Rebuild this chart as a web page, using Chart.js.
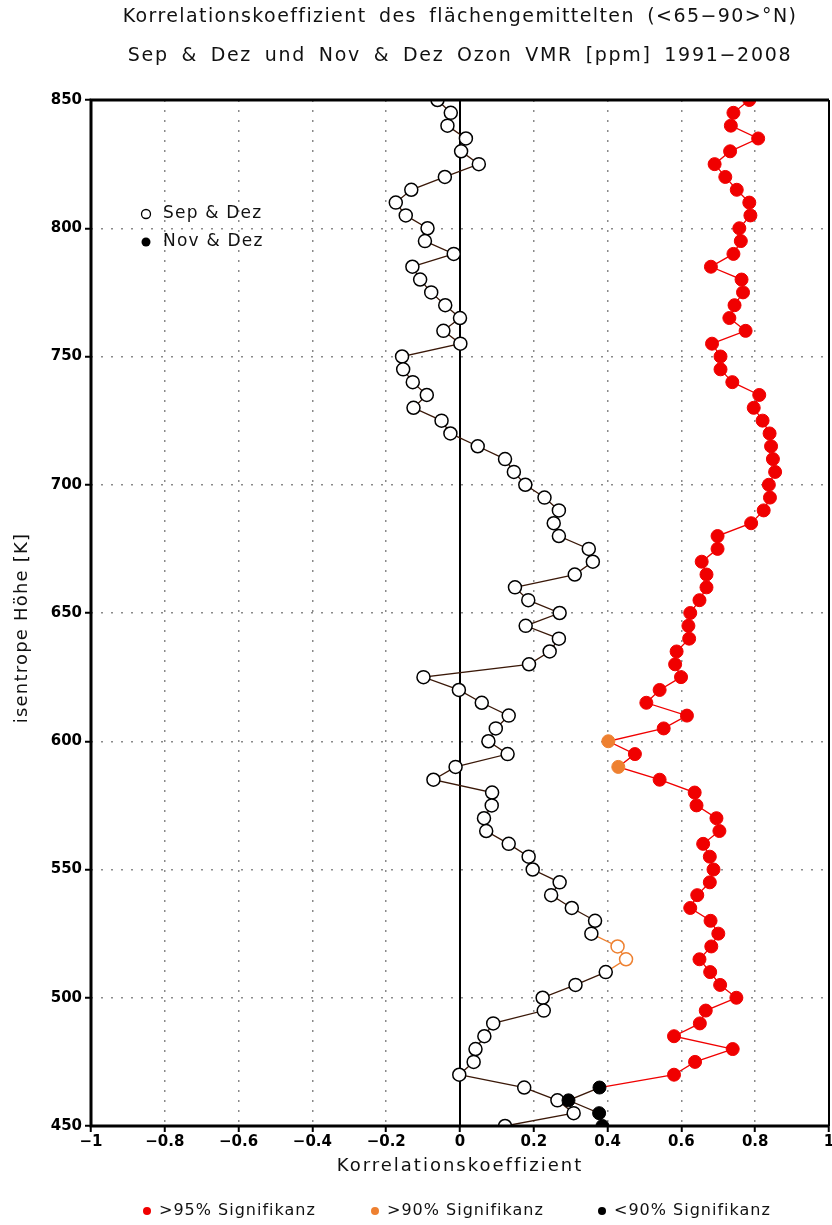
<!DOCTYPE html>
<html>
<head>
<meta charset="utf-8">
<script src="https://cdn.jsdelivr.net/npm/chart.js@4.4.1/dist/chart.umd.min.js"></script>
<style>
html, body { margin: 0; padding: 0; background: #fff; }
#wrap { width: 832px; height: 1225px; }
</style>
</head>
<body>
<div id="wrap"><canvas id="chart" width="832" height="1225"></canvas></div>
<script>
// isentrope Höhen von oben nach unten
const levels = [850, 845, 840, 835, 830, 825, 820, 815, 810, 805,
                800, 795, 790, 785, 780, 775, 770, 765, 760, 755,
                750, 745, 740, 735, 730, 725, 720, 715, 710, 705,
                700, 695, 690, 685, 680, 675, 670, 665, 660, 655,
                650, 645, 640, 635, 630, 625, 620, 615, 610, 605,
                600, 595, 590, 585, 580, 575, 570, 565, 560, 555,
                550, 545, 540, 535, 530, 525, 520, 515, 510, 505,
                500, 495, 490, 485, 480, 475, 470, 465, 460, 455, 450];

// Sep & Dez (offene Kreise)
const sepDez = [-0.061, -0.025, -0.034, 0.016, 0.003, 0.051, -0.041, -0.132, -0.174, -0.147,
                -0.088, -0.095, -0.017, -0.129, -0.108, -0.078, -0.040, 0.000, -0.045, 0.001,
                -0.157, -0.154, -0.128, -0.090, -0.126, -0.050, -0.026, 0.048, 0.122, 0.146,
                0.177, 0.229, 0.268, 0.254, 0.268, 0.349, 0.360, 0.311, 0.149, 0.185,
                0.270, 0.178, 0.268, 0.243, 0.187, -0.099, -0.003, 0.059, 0.132, 0.097,
                0.077, 0.129, -0.012, -0.072, 0.087, 0.086, 0.065, 0.071, 0.132, 0.186,
                0.197, 0.270, 0.247, 0.303, 0.366, 0.356, 0.427, 0.450, 0.395, 0.313,
                0.224, 0.227, 0.090, 0.066, 0.042, 0.037, -0.002, 0.174, 0.264, 0.308, 0.122];

// Nov & Dez (gefüllte Kreise)
const novDez = [0.784, 0.741, 0.734, 0.808, 0.732, 0.690, 0.719, 0.750, 0.784, 0.787,
                0.757, 0.761, 0.741, 0.680, 0.763, 0.767, 0.744, 0.730, 0.774, 0.683,
                0.706, 0.706, 0.738, 0.811, 0.796, 0.820, 0.839, 0.843, 0.848, 0.854,
                0.837, 0.840, 0.823, 0.789, 0.698, 0.698, 0.655, 0.668, 0.668, 0.649,
                0.624, 0.619, 0.621, 0.587, 0.583, 0.599, 0.541, 0.505, 0.615, 0.552,
                0.402, 0.474, 0.429, 0.541, 0.636, 0.641, 0.695, 0.703, 0.659, 0.677,
                0.687, 0.677, 0.643, 0.624, 0.679, 0.700, 0.681, 0.649, 0.678, 0.705,
                0.749, 0.666, 0.650, 0.580, 0.739, 0.637, 0.580, 0.378, 0.294, 0.377, 0.386];

// Signifikanz: Höhen mit abweichender Stufe
const sepDezOver90 = [520, 515];
const novDezOver90 = [600, 590];
const novDezUnder90 = [465, 460, 455, 450];

const xTicks = [-1, -0.8, -0.6, -0.4, -0.2, 0, 0.2, 0.4, 0.6, 0.8, 1];
const yTicks = [450, 500, 550, 600, 650, 700, 750, 800, 850];

const COL_95 = '#f00000';
const COL_90 = '#ee8030';
const COL_LOW = '#000000';
const COL_LOW_LINE = '#3a1808';

const TXT_FONT = '"DejaVu Sans", sans-serif';

// 0 = <90%, 1 = >90%, 2 = >95%
const sepRank = levels.map(l => sepDezOver90.includes(l) ? 1 : 0);
const novRank = levels.map(l => novDezOver90.includes(l) ? 1 : (novDezUnder90.includes(l) ? 0 : 2));

const rankColor = r => [COL_LOW, COL_90, COL_95][r];
const lineColor = r => [COL_LOW_LINE, COL_90, COL_95][r];
const segColor = ranks => ctx => lineColor(Math.max(ranks[ctx.p0DataIndex], ranks[ctx.p1DataIndex]));

function drawText(ctx, text, x, y, size, align, spacing, wordGap) {
    ctx.font = size + 'px ' + TXT_FONT;
    ctx.letterSpacing = spacing + 'px';
    ctx.wordSpacing = (wordGap || 0) + 'px';
    ctx.textAlign = align;
    ctx.textBaseline = 'middle';
    ctx.fillStyle = '#111';
    ctx.fillText(text, x, y);
}

const decorPlugin = {
    id: 'decor',
    beforeDatasetsDraw(chart) {
        const { ctx, chartArea: a, scales: { x } } = chart;
        const x0 = x.getPixelForValue(0);
        ctx.save();
        ctx.strokeStyle = '#000';
        ctx.lineWidth = 2;
        ctx.beginPath();
        ctx.moveTo(x0, a.top);
        ctx.lineTo(x0, a.bottom);
        ctx.stroke();
        ctx.restore();
    },
    afterDraw(chart) {
        const { ctx, chartArea: a } = chart;
        const cx = (a.left + a.right) / 2;
        ctx.save();

        // Rahmen
        ctx.strokeStyle = '#000';
        ctx.lineWidth = 3;
        ctx.beginPath();
        ctx.moveTo(a.left, a.top); ctx.lineTo(a.right, a.top);
        ctx.moveTo(a.left, a.bottom); ctx.lineTo(a.right, a.bottom);
        ctx.moveTo(a.left, a.top - 1.5); ctx.lineTo(a.left, a.bottom + 1.5);
        ctx.stroke();
        ctx.lineWidth = 2;
        ctx.beginPath();
        ctx.moveTo(a.right, a.top); ctx.lineTo(a.right, a.bottom);
        ctx.stroke();

        // Titel
        drawText(ctx, 'Korrelationskoeffizient des flächengemittelten (<65−90>°N)', cx, 17, 19, 'center', 1.4, 5);
        drawText(ctx, 'Sep & Dez und Nov & Dez Ozon VMR [ppm] 1991−2008', cx, 56, 19, 'center', 1.7, 5);

        // Achsentitel
        drawText(ctx, 'Korrelationskoeffizient', cx, 1166, 18, 'center', 2);
        ctx.save();
        ctx.translate(22, 628);
        ctx.rotate(-Math.PI / 2);
        drawText(ctx, 'isentrope Höhe [K]', 0, 0, 18, 'center', 1.2);
        ctx.restore();

        // Legende im Diagramm
        ctx.lineWidth = 1.3;
        ctx.strokeStyle = '#000';
        ctx.fillStyle = '#fff';
        ctx.beginPath();
        ctx.arc(a.left + 55, 214, 4.5, 0, Math.PI * 2);
        ctx.fill();
        ctx.stroke();
        drawText(ctx, 'Sep & Dez', a.left + 72, 214, 17, 'left', 1.2);
        ctx.fillStyle = '#000';
        ctx.beginPath();
        ctx.arc(a.left + 55, 242, 4.5, 0, Math.PI * 2);
        ctx.fill();
        drawText(ctx, 'Nov & Dez', a.left + 72, 242, 17, 'left', 1.2);

        // Signifikanz-Legende
        const items = [['>95% Signifikanz', COL_95, 147], ['>90% Signifikanz', COL_90, 375], ['<90% Signifikanz', COL_LOW, 602]];
        items.forEach(([label, col, px]) => {
            ctx.fillStyle = col;
            ctx.beginPath();
            ctx.arc(px, 1211, 4, 0, Math.PI * 2);
            ctx.fill();
            drawText(ctx, label, px + 12, 1211, 16, 'left', 1.0);
        });
        ctx.restore();
    }
};

const tickFont = { family: '"DejaVu Sans", sans-serif', size: 15, weight: 'bold' };

new Chart(document.getElementById('chart'), {
    type: 'scatter',
    data: {
        datasets: [{
            label: 'Nov & Dez',
            data: levels.map((l, i) => ({ x: novDez[i], y: l })),
            showLine: true,
            borderWidth: 1.3,
            borderColor: COL_95,
            segment: { borderColor: segColor(novRank) },
            pointRadius: 6.5,
            pointBorderWidth: 1,
            pointBackgroundColor: novRank.map(rankColor),
            pointBorderColor: novRank.map(rankColor),
            order: 0
        }, {
            label: 'Sep & Dez',
            data: levels.map((l, i) => ({ x: sepDez[i], y: l })),
            showLine: true,
            borderWidth: 1.3,
            borderColor: COL_LOW_LINE,
            segment: { borderColor: segColor(sepRank) },
            pointRadius: 6.5,
            pointBorderWidth: 1.5,
            pointBackgroundColor: '#fff',
            pointBorderColor: sepRank.map(rankColor),
            order: 1
        }]
    },
    options: {
        responsive: false,
        animation: false,
        layout: { autoPadding: false, padding: { left: 0, right: 3, top: 100, bottom: 0 } },
        plugins: {
            legend: { display: false },
            tooltip: { enabled: false }
        },
        scales: {
            x: {
                type: 'linear',
                min: -1,
                max: 1,
                afterFit: s => { s.height = 99; s.paddingLeft = 0; s.paddingRight = 0; },
                afterBuildTicks: s => { s.ticks = xTicks.map(v => ({ value: v })); },
                grid: { color: '#8a8a8a', lineWidth: 1.5, tickColor: '#000', tickLength: 6, tickWidth: 2 },
                border: { display: false, dash: [2, 8] },
                ticks: {
                    color: '#000',
                    font: tickFont,
                    padding: 1,
                    maxRotation: 0,
                    callback: v => String(Math.round(v * 10) / 10).replace('-', '−')
                }
            },
            y: {
                type: 'linear',
                min: 450,
                max: 850,
                afterFit: s => { s.width = 91; s.paddingTop = 0; s.paddingBottom = 0; },
                afterBuildTicks: s => { s.ticks = yTicks.map(v => ({ value: v })); },
                grid: { color: '#8a8a8a', lineWidth: 1.5, tickColor: '#000', tickLength: 6, tickWidth: 2 },
                border: { display: false, dash: [2, 8] },
                ticks: {
                    color: '#000',
                    font: tickFont,
                    padding: 3
                }
            }
        }
    },
    plugins: [decorPlugin]
});
</script>
</body>
</html>
